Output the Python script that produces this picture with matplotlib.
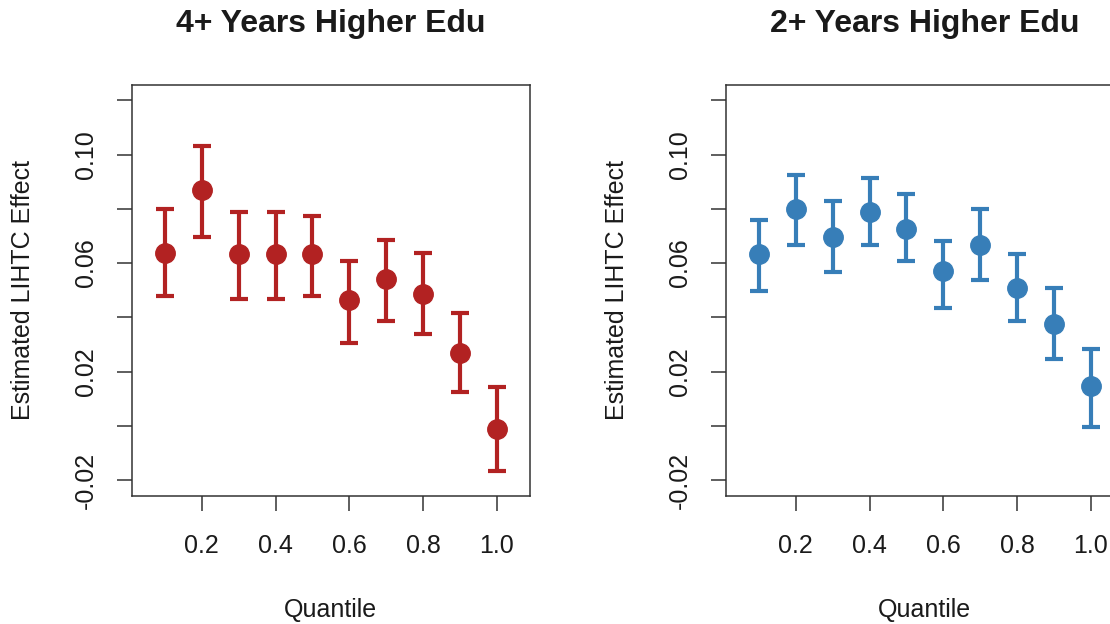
import matplotlib
matplotlib.use("Agg")
import matplotlib.pyplot as plt
import numpy as np

plt.rcParams['font.family'] = ['Liberation Sans', 'DejaVu Sans']

quantiles = [0.1, 0.2, 0.3, 0.4, 0.5, 0.6, 0.7, 0.8, 0.9, 1.0]

est_4yr = [0.0638, 0.0868, 0.0632, 0.0632, 0.0632, 0.0463, 0.0540, 0.0487, 0.0269, -0.0010]
lo_4yr = [0.0478, 0.0696, 0.0466, 0.0466, 0.0478, 0.0307, 0.0387, 0.0340, 0.0125, -0.0166]
hi_4yr = [0.0798, 0.1031, 0.0788, 0.0788, 0.0775, 0.0606, 0.0686, 0.0637, 0.0417, 0.0144]

est_2yr = [0.0632, 0.0798, 0.0696, 0.0788, 0.0727, 0.0571, 0.0668, 0.0509, 0.0377, 0.0146]
lo_2yr = [0.0496, 0.0665, 0.0567, 0.0665, 0.0606, 0.0436, 0.0539, 0.0387, 0.0245, -0.0004]
hi_2yr = [0.0757, 0.0926, 0.0828, 0.0914, 0.0855, 0.0683, 0.0798, 0.0635, 0.0508, 0.0282]

titles = ["4+ Years Higher Edu", "2+ Years Higher Edu"]
colors = ["#B22222", "#377EB8"]
xticks = [0.2, 0.4, 0.6, 0.8, 1.0]
xticklabels = ["0.2", "0.4", "0.6", "0.8", "1.0"]
yticks = [-0.02, 0.0, 0.02, 0.04, 0.06, 0.08, 0.10, 0.12]
yticklabels = ["-0.02", "", "0.02", "", "0.06", "", "0.10", ""]
xlabel = "Quantile"
ylabel = "Estimated LIHTC Effect"

W, H = 1110, 624
fig = plt.figure(figsize=(W / 100, H / 100), dpi=100)

panels = [(est_4yr, lo_4yr, hi_4yr), (est_2yr, lo_2yr, hi_2yr)]
lefts_px = [131.7, 725.7]
box_w_px = 398.3
box_top_px, box_bot_px = 85, 495.5
txt_col = "#1a1a1a"
for i, (est, lo, hi) in enumerate(panels):
    ax = fig.add_axes([lefts_px[i] / W, (H - box_bot_px) / H, box_w_px / W, (box_bot_px - box_top_px) / H])
    est = np.array(est); lo = np.array(lo); hi = np.array(hi)
    ax.errorbar(quantiles, est, yerr=[est - lo, hi - est], fmt='o', color=colors[i],
                ms=14, mec=colors[i], elinewidth=3.0, capsize=6.8, capthick=3.0)
    ax.set_xlim(0.01, 1.09)
    ax.set_ylim(-0.0256, 0.1256)
    ax.set_xticks(xticks)
    ax.set_xticklabels(xticklabels)
    ax.set_yticks(yticks)
    ax.set_yticklabels(yticklabels, rotation=90, va='center')
    for s in ax.spines.values():
        s.set_linewidth(1.1)
        s.set_color("#333333")
    ax.tick_params(axis='both', length=11, width=1.1, color="#333333", labelsize=18, labelcolor=txt_col)
    ax.tick_params(axis='x', pad=17)
    ax.tick_params(axis='y', pad=13)
    cx = (lefts_px[i] + box_w_px / 2) / W
    fig.text(cx, (H - 32) / H, titles[i], ha='center', va='baseline', fontsize=23,
             fontweight='bold', color=txt_col)
    fig.text(cx, (H - 616.5) / H, xlabel, ha='center', va='baseline', fontsize=18, color=txt_col)
    fig.text((lefts_px[i] - 109) / W, (H - (box_top_px + box_bot_px) / 2) / H, ylabel,
             ha='center', va='center', rotation=90, fontsize=18, color=txt_col)

fig.savefig("out.png", dpi=100)
